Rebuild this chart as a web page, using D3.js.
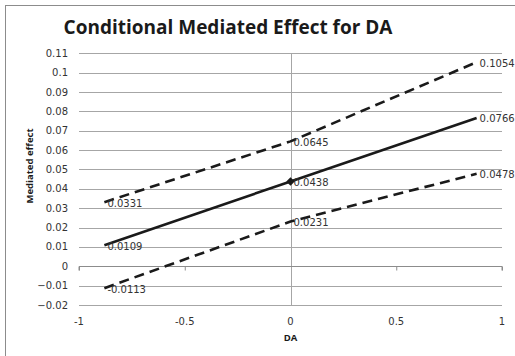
<!DOCTYPE html>
<html><head><meta charset="utf-8">
<script src="https://cdn.jsdelivr.net/npm/d3@7"></script>
<style>body{margin:0;background:#fff}svg{display:block}</style>
</head><body>
<script>
const xValues = [-0.88, 0, 0.88];
const lowerValues = [-0.0113, 0.0231, 0.0478];
const effectValues = [0.0109, 0.0438, 0.0766];
const upperValues = [0.0331, 0.0645, 0.1054];
const yTicks = [-0.02,-0.01,0,0.01,0.02,0.03,0.04,0.05,0.06,0.07,0.08,0.09,0.1,0.11];
const xTicks = [-1,-0.5,0,0.5,1];
const title = "Conditional Mediated Effect for DA";

const W=515,H=356;
const svg=d3.select("body").append("svg").attr("width",W).attr("height",H);
svg.append("rect").attr("x",5.5).attr("y",5.5).attr("width",530).attr("height",370)
  .attr("fill","#fff").attr("stroke","#8c8c8c").attr("stroke-width",1);

const x=d3.scaleLinear().domain([-1,1]).range([79,502]);
const y=d3.scaleLinear().domain([-0.02,0.11]).range([305,53.3]);
const font="DejaVu Sans, Verdana, sans-serif";

// gridlines
svg.append("g").selectAll("line").data(yTicks.filter(d=>d!==0)).join("line")
  .attr("x1",x(-1)).attr("x2",x(1)).attr("y1",d=>Math.round(y(d))+0.5).attr("y2",d=>Math.round(y(d))+0.5)
  .attr("stroke","#a6a6a6").attr("stroke-width",1);
// vertical axis at x=0
svg.append("line").attr("x1",Math.round(x(0))+0.5).attr("x2",Math.round(x(0))+0.5)
  .attr("y1",y(0.11)).attr("y2",y(-0.02)).attr("stroke","#a6a6a6");
// horizontal axis at y=0
const xAxis=d3.axisBottom(x).tickValues(xTicks).tickSize(4).tickFormat("");
const gx=svg.append("g").attr("transform",`translate(0,${Math.round(y(0))+0.5})`).call(xAxis);
gx.select(".domain").attr("stroke","#8c8c8c").attr("d",`M${x(-1)},4V0H${x(1)}V4`);
gx.selectAll(".tick line").attr("stroke","#8c8c8c");
gx.selectAll(".tick").filter(d=>d===0).remove();

// y tick labels
svg.append("g").selectAll("text").data(yTicks).join("text")
  .attr("x",68).attr("y",d=>y(d)).attr("dy","0.35em").attr("text-anchor","end")
  .attr("font-family",font).attr("font-size",10).attr("fill","#333")
  .text(d=>d3.format("")(+d.toFixed(2)));
// x tick labels
svg.append("g").selectAll("text").data(xTicks).join("text")
  .attr("x",d=>x(d)).attr("y",321).attr("dy","0.35em").attr("text-anchor","middle")
  .attr("font-family",font).attr("font-size",10).attr("fill","#333")
  .text(d=>String(d));

const line=d3.line().x((d,i)=>x(xValues[i])).y(d=>y(d));
const series=[
  {v:upperValues,dash:"10,6"},
  {v:lowerValues,dash:"10,6"},
  {v:effectValues,dash:null}
];
series.forEach(s=>{
  svg.append("path").datum(s.v).attr("d",line).attr("fill","none")
    .attr("stroke","#1a1a1a").attr("stroke-width",2.6)
    .attr("stroke-dasharray",s.dash);
  svg.append("g").selectAll("text").data(s.v).join("text")
    .attr("x",(d,i)=>x(xValues[i])+3).attr("y",d=>y(d)+1).attr("dy","0.35em")
    .attr("font-family",font).attr("font-size",10).attr("fill","#333")
    .text(d=>d.toFixed(4));
});
// diamond marker at center
svg.append("path").attr("d",d3.symbol(d3.symbolDiamond2,45)())
  .attr("transform",`translate(${x(0)},${y(effectValues[1])})`).attr("fill","#1a1a1a");

// title
svg.append("text").attr("x",228).attr("y",34).attr("text-anchor","middle")
  .attr("font-family","Open Sans, sans-serif").attr("font-weight","bold").attr("font-size",19)
  .attr("fill","#1a1a1a").text(title);
// axis titles
svg.append("text").attr("transform","translate(33,166) rotate(-90)").attr("text-anchor","middle")
  .attr("font-family","Open Sans, sans-serif").attr("font-weight","bold").attr("font-size",9.5)
  .attr("fill","#1a1a1a").text("Mediated effect");
svg.append("text").attr("x",x(0)).attr("y",341).attr("text-anchor","middle")
  .attr("font-family","Open Sans, sans-serif").attr("font-weight","bold").attr("font-size",9.5)
  .attr("fill","#1a1a1a").text("DA");
</script>
</body></html>
